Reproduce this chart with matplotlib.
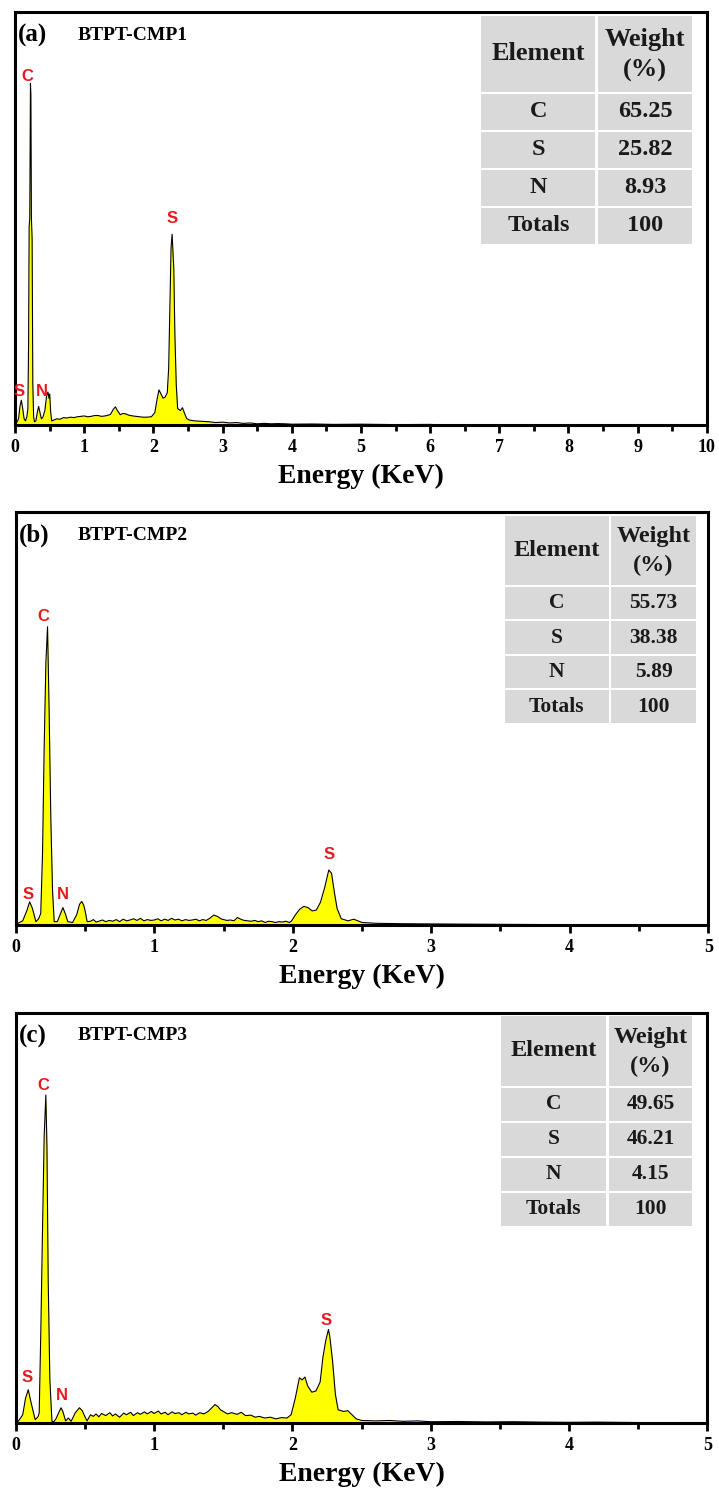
import numpy as np
import matplotlib.pyplot as plt
from matplotlib.patches import Rectangle
from matplotlib.ticker import MultipleLocator

plt.rcParams['font.family'] = ['Liberation Serif', 'DejaVu Serif']

# ---- данные (энергия, кэВ / относительная интенсивность, %) ----
energy_a = [0.0, 0.02, 0.05, 0.07, 0.09, 0.11, 0.13, 0.15, 0.17, 0.185, 0.195, 0.203, 0.212,
            0.222, 0.228, 0.236, 0.246, 0.256, 0.268, 0.28, 0.30, 0.32, 0.34, 0.36, 0.38,
            0.40, 0.43, 0.455, 0.475, 0.49, 0.50, 0.515, 0.53, 0.56, 0.60, 0.65, 0.70,
            0.75, 0.80, 0.85, 0.90, 0.95, 1.0, 1.05, 1.1, 1.15, 1.2, 1.25, 1.3, 1.35, 1.38,
            1.42, 1.45, 1.48, 1.52, 1.56, 1.60, 1.64, 1.7, 1.75, 1.8, 1.85, 1.9, 1.97, 2.02,
            2.05, 2.08, 2.11, 2.14, 2.17, 2.2, 2.22, 2.255, 2.27, 2.294, 2.31, 2.33, 2.35,
            2.39, 2.42, 2.45, 2.48, 2.52, 2.6, 2.7, 2.8, 2.9, 3.0, 3.1, 3.2, 3.3, 3.4, 3.5,
            3.6, 3.7, 3.8, 3.9, 4.0, 4.3, 4.6, 5.0, 5.5, 6.0, 6.2]
counts_a = [0.0, 0.5, 1.5, 4.5, 6.0, 4.0, 1.5, 1.0, 2.0, 4.0, 20.0, 48.0, 50.0,
            82.7, 80.0, 50.0, 45.0, 10.0, 2.0, 0.8, 1.0, 3.0, 4.5, 3.0, 1.5,
            1.8, 3.5, 7.0, 8.0, 6.5, 7.5, 3.0, 1.0, 1.2, 1.5, 1.4, 1.8,
            1.7, 1.9, 1.8, 2.0, 2.1, 2.2, 2.0, 2.1, 2.3, 2.3, 2.1, 2.2, 2.4, 2.6,
            3.8, 4.4, 3.5, 2.5, 2.8, 2.7, 2.4, 2.2, 2.1, 2.0, 1.9, 1.9, 2.0, 3.0,
            6.0, 8.5, 7.5, 6.5, 6.8, 7.8, 13.7, 43.0, 46.2, 38.0, 22.0, 9.7, 4.0,
            3.5, 4.2, 2.8, 1.6, 1.2, 1.0, 0.9, 0.8, 0.6, 0.7, 0.5, 0.6, 0.4, 0.5, 0.3,
            0.4, 0.3, 0.35, 0.3, 0.2, 0.25, 0.15, 0.2, 0.1, 0.15, 0.0]

energy_b = [0.0, 0.02, 0.05, 0.08, 0.10, 0.12, 0.145, 0.165, 0.18, 0.193, 0.204, 0.217,
            0.229, 0.24, 0.253, 0.265, 0.277, 0.30, 0.32, 0.34, 0.36, 0.375, 0.41,
            0.44, 0.46, 0.476, 0.49, 0.50, 0.515, 0.54, 0.56, 0.58, 0.6, 0.625, 0.65, 0.675,
            0.7, 0.725, 0.75, 0.775, 0.8, 0.825, 0.85, 0.875, 0.9, 0.925, 0.95, 0.975, 1.0,
            1.025, 1.05, 1.075, 1.1, 1.125, 1.15, 1.175, 1.2, 1.225, 1.25, 1.275, 1.3,
            1.325, 1.35, 1.375, 1.4, 1.43, 1.46, 1.48, 1.5, 1.525, 1.55, 1.575, 1.6, 1.63,
            1.65, 1.675, 1.7, 1.725, 1.75, 1.775, 1.8, 1.825, 1.85, 1.875, 1.9, 1.925, 1.95,
            1.975, 1.99, 2.02, 2.05, 2.08, 2.11, 2.14, 2.17, 2.2, 2.23, 2.26, 2.28, 2.30,
            2.32, 2.35, 2.4, 2.44, 2.5, 2.6, 2.8, 3.0, 3.2, 3.5, 3.8]
counts_b = [0.0, 0.5, 1.0, 3.5, 5.6, 4.0, 0.8, 1.5, 2.8, 17.4, 41.6, 63.4,
            72.2, 52.9, 25.4, 8.5, 0.8, 0.8, 2.5, 4.2, 2.5, 0.8, 0.6,
            2.5, 5.0, 5.7, 4.8, 3.5, 0.8, 0.9, 1.3, 0.7, 0.9, 1.2, 0.8, 1.1,
            0.9, 1.3, 0.8, 1.4, 1.0, 1.2, 1.5, 1.1, 1.6, 1.0, 1.3, 1.1, 1.2,
            1.5, 1.0, 1.4, 1.1, 1.6, 1.2, 1.4, 1.0, 1.3, 1.1, 1.2, 1.4,
            1.0, 1.3, 1.1, 1.6, 2.4, 2.0, 1.5, 1.3, 1.1, 1.2, 1.0, 1.8, 1.3,
            1.1, 1.0, 0.9, 1.1, 0.8, 1.0, 0.6, 0.9, 0.8, 0.6, 0.8, 0.7, 0.9,
            0.6, 0.9, 2.5, 3.8, 4.5, 4.2, 3.4, 3.6, 5.5, 9.0, 13.3, 12.5, 8.0,
            4.0, 1.5, 1.0, 1.4, 0.6, 0.4, 0.3, 0.25, 0.2, 0.15, 0.1]

energy_c = [0.0, 0.02, 0.05, 0.07, 0.09, 0.11, 0.14, 0.16, 0.169, 0.181, 0.193, 0.205, 0.217,
            0.225, 0.234, 0.246, 0.261, 0.275, 0.29, 0.31, 0.327, 0.34, 0.36, 0.38, 0.40,
            0.43, 0.46, 0.48, 0.50, 0.515, 0.54, 0.56, 0.58, 0.6, 0.62, 0.65, 0.68, 0.7,
            0.72, 0.75, 0.78, 0.8, 0.83, 0.85, 0.88, 0.9, 0.93, 0.95, 0.98, 1.0, 1.03,
            1.05, 1.08, 1.1, 1.13, 1.15, 1.18, 1.2, 1.23, 1.25, 1.28, 1.3, 1.33, 1.36,
            1.39, 1.42, 1.44, 1.46, 1.48, 1.5, 1.53, 1.56, 1.6, 1.63, 1.66, 1.7, 1.73,
            1.76, 1.8, 1.84, 1.88, 1.92, 1.96, 1.99, 2.02, 2.05, 2.07, 2.09, 2.11, 2.14,
            2.17, 2.2, 2.22, 2.24, 2.26, 2.27, 2.29, 2.31, 2.33, 2.37, 2.4, 2.43, 2.46,
            2.5, 2.6, 2.7, 2.8, 2.9, 3.0, 3.2, 3.4, 3.6, 3.8, 4.0, 4.2, 4.5, 4.8]
counts_c = [0.0, 0.5, 2.0, 6.0, 8.1, 5.0, 0.8, 1.5, 2.4, 22.8, 47.2, 69.9, 80.0,
            67.5, 35.0, 10.6, 0.4, 0.3, 1.0, 2.5, 3.7, 2.8, 0.5, 1.2, 0.4,
            2.5, 3.7, 3.0, 1.5, 0.5, 2.0, 1.6, 2.2, 1.5, 2.3, 1.8, 2.5, 1.7,
            2.2, 1.4, 2.4, 2.0, 2.6, 1.8, 2.5, 2.1, 2.7, 2.2, 2.8, 2.3, 2.9,
            2.2, 2.6, 2.0, 2.7, 2.3, 2.5, 2.0, 2.6, 2.2, 2.4, 1.9, 2.5, 2.2,
            2.8, 3.8, 4.5, 4.0, 3.2, 2.8, 2.2, 2.5, 2.1, 2.6, 1.8, 1.9, 1.4,
            1.6, 1.2, 1.4, 1.0, 1.3, 1.2, 2.0, 6.0, 11.0, 10.5, 11.2, 9.0, 7.5,
            7.8, 10.0, 16.0, 20.0, 22.8, 21.0, 15.0, 7.0, 3.2, 2.8, 3.0, 2.0, 1.0,
            0.6, 0.5, 0.6, 0.4, 0.5, 0.3, 0.35, 0.25, 0.3, 0.2, 0.15, 0.2, 0.1, 0.1]

# подписи пиков: (элемент, энергия, высота)
peaks_a = [('C', 0.18, 84.4), ('S', 2.27, 49.9), ('S', 0.06, 8.0), ('N', 0.38, 8.0)]
peaks_b = [('C', 0.195, 74.6), ('S', 2.26, 17.0), ('S', 0.09, 7.3), ('N', 0.34, 7.3)]
peaks_c = [('C', 0.20, 82.4), ('S', 2.24, 25.0), ('S', 0.08, 11.0), ('N', 0.33, 6.8)]

table_elements = ['C', 'S', 'N', 'Totals']
weight_a = ['65.25', '25.82', '8.93', '100']
weight_b = ['55.73', '38.38', '5.89', '100']
weight_c = ['49.65', '46.21', '4.15', '100']

panels = [
    dict(tag='(a)', name='BTPT-CMP1', x=energy_a, y=counts_a, peaks=peaks_a, w=weight_a,
         xmax=10, rect=[0.021, 0.7157, 0.962, 0.2763],
         tab=[0.672, 0.841, 0.981, 0.993, 0.804, 0.092], fs_head=19, fs_body=17.5),
    dict(tag='(b)', name='BTPT-CMP2', x=energy_b, y=counts_b, peaks=peaks_b, w=weight_b,
         xmax=5, rect=[0.022, 0.3813, 0.963, 0.2763],
         tab=[0.704, 0.858, 0.984, 0.993, 0.821, 0.0835], fs_head=17.5, fs_body=15.5),
    dict(tag='(c)', name='BTPT-CMP3', x=energy_c, y=counts_c, peaks=peaks_c, w=weight_c,
         xmax=5, rect=[0.022, 0.0482, 0.962, 0.2742],
         tab=[0.699, 0.855, 0.980, 0.995, 0.820, 0.0854], fs_head=17.5, fs_body=15.5),
]

fig = plt.figure(figsize=(7.19, 14.95), dpi=100)

for p in panels:
    ax = fig.add_axes(p['rect'])
    ax.fill_between(p['x'], 0, p['y'], color='#ffff00', linewidth=0)
    ax.plot(p['x'], p['y'], color='black', linewidth=0.8)
    ax.set_xlim(0, p['xmax'])
    ax.set_ylim(0, 100)
    ax.set_yticks([])
    ax.xaxis.set_major_locator(MultipleLocator(1))
    ax.xaxis.set_minor_locator(MultipleLocator(0.5))
    ax.tick_params(axis='x', which='major', direction='out', length=6, width=2, pad=4, labelsize=13)
    ax.tick_params(axis='x', which='minor', direction='out', length=4, width=2)
    for lab in ax.get_xticklabels():
        lab.set_fontweight('bold')
    for s in ax.spines.values():
        s.set_linewidth(2.2)
    ax.set_xlabel('Energy (KeV)', fontsize=20, fontweight='bold', labelpad=6)

    ax.text(0.004, 0.944, p['tag'], transform=ax.transAxes, fontsize=18, fontweight='bold',
            ha='left', va='center')
    ax.text(0.09, 0.944, p['name'], transform=ax.transAxes, fontsize=14, fontweight='bold',
            ha='left', va='center')

    for el, ex, ey in p['peaks']:
        ax.text(ex, ey, el, color='#e8191e', fontsize=12, fontweight='bold',
                family='Liberation Sans', ha='center', va='center')

    # таблица состава
    x0, xm, x1, top, hb, rh = p['tab']
    gap = 0.002
    rows = [('Element', None, top, hb, p['fs_head'])]
    for i, el in enumerate(table_elements):
        rows.append((el, p['w'][i], hb - i * rh, hb - (i + 1) * rh, p['fs_body']))
    for left_txt, right_txt, yt, yb, fs in rows:
        for (xa, xb) in [(x0, xm), (xm, x1)]:
            ax.add_patch(Rectangle((xa + gap, yb + gap), xb - xa - 2 * gap, yt - yb - 2 * gap,
                                   transform=ax.transAxes, facecolor='#d9d9d9',
                                   edgecolor='none', zorder=3))
        kw = dict(transform=ax.transAxes, fontsize=fs, fontweight='bold', ha='center',
                  va='center', zorder=4, color='#1a1a1a')
        ax.text((x0 + xm) / 2, (yt + yb) / 2, left_txt, **kw)
        if right_txt is None:
            # шапка "Weight (%)" в две строки
            ax.text((xm + x1) / 2, yt - 0.31 * (yt - yb), 'Weight', **kw)
            ax.text((xm + x1) / 2, yt - 0.71 * (yt - yb), '(%)', **kw)
        else:
            ax.text((xm + x1) / 2, (yt + yb) / 2, right_txt, **kw)

fig.savefig('out.png', dpi=100)
